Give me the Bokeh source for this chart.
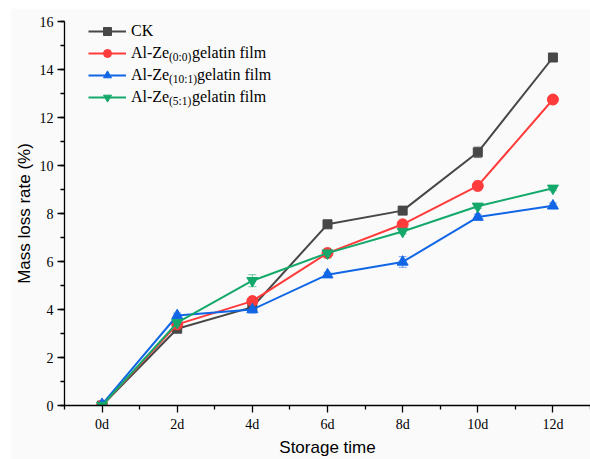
from bokeh.plotting import figure
from bokeh.models import (Range1d, FixedTicker, SingleIntervalTicker, Legend, LegendItem,
                          Whisker, ColumnDataSource)
from bokeh.embed import file_html
from bokeh.resources import INLINE

days = [0, 2, 4, 6, 8, 10, 12]
tick_labels = ["0d", "2d", "4d", "6d", "8d", "10d", "12d"]

ck = [0.0, 3.2, 4.1, 7.55, 8.12, 10.55, 14.5]
ck_err = [0.05, 0.08, 0.1, 0.15, 0.1, 0.22, 0.1]
ze00 = [0.0, 3.38, 4.35, 6.35, 7.55, 9.15, 12.75]
ze00_err = [0.05, 0.1, 0.15, 0.15, 0.12, 0.2, 0.15]
ze101 = [0.05, 3.75, 4.0, 5.45, 5.98, 7.85, 8.32]
ze101_err = [0.05, 0.1, 0.15, 0.1, 0.22, 0.12, 0.12]
ze51 = [0.0, 3.45, 5.2, 6.35, 7.25, 8.3, 9.05]
ze51_err = [0.05, 0.1, 0.25, 0.2, 0.1, 0.1, 0.1]

names_main = ["CK", "Al-Ze", "Al-Ze", "Al-Ze"]
names_sub = ["(0:0)", "(10:1)", "(5:1)"]
names_tail = ["gelatin film", "gelatin film", "gelatin film"]

colors = ["#474747", "#ff3b3b", "#1166e6", "#14a96b"]
markers = ["square", "circle", "triangle", "inverted_triangle"]
series = [ck, ze00, ze101, ze51]
errors = [ck_err, ze00_err, ze101_err, ze51_err]

p = figure(width=580, height=451, output_backend="svg", toolbar_location=None,
           x_range=Range1d(-1, 13), y_range=Range1d(0, 16),
           min_border_left=54, min_border_right=0, min_border_top=13, min_border_bottom=52,
           background_fill_color="#fafafa", border_fill_color="#fafafa",
           margin=(8, 0, 0, 10))
p.outline_line_color = None
p.xgrid.visible = False
p.ygrid.visible = False

renderers = []
for ys, err, c, m in zip(series, errors, colors, markers):
    src = ColumnDataSource(dict(x=days, y=ys,
                                lo=[a - b for a, b in zip(ys, err)],
                                hi=[a + b for a, b in zip(ys, err)]))
    w = Whisker(source=src, base="x", lower="lo", upper="hi",
                line_color=c, line_alpha=0.6, line_width=1)
    w.upper_head.line_color = c
    w.lower_head.line_color = c
    w.upper_head.line_alpha = 0.6
    w.lower_head.line_alpha = 0.6
    w.upper_head.size = 8
    w.lower_head.size = 8
    p.add_layout(w)
    l = p.line("x", "y", source=src, line_color=c, line_width=2)
    s = p.scatter("x", "y", source=src, marker=m, size=11 if m != "square" else 9,
                  fill_color=c, line_color=c)
    renderers.append([l, s])

common = dict(margin=0, padding=0, spacing=2, glyph_height=20, label_height=20,
              border_line_color=None, background_fill_alpha=0, label_text_color="#000000",
              label_text_font="Liberation Serif")

items = [LegendItem(label=n, renderers=r) for n, r in zip(names_main, renderers)]
p.add_layout(Legend(items=items, location=(24, 298), glyph_width=38, label_standoff=5,
                    label_text_font_size="16px", **common))

# invisible sample glyph for the subscript / tail parts of the legend labels
blank = p.scatter(x=[], y=[], size=1, fill_alpha=0, line_alpha=0)

sub_items = [LegendItem(label=s, renderers=[blank]) for s in names_sub]
p.add_layout(Legend(items=sub_items, location=(95, 294), glyph_width=10, label_standoff=0,
                    label_text_font_size="11.5px", **common))

sub_w = [23, 28, 23]
for r, (sw, tail) in enumerate(zip(sub_w, names_tail), start=1):
    p.add_layout(Legend(items=[LegendItem(label=tail, renderers=[blank])],
                        location=(95 + sw, 364 - 22 * r), glyph_width=10, label_standoff=0,
                        label_text_font_size="16px", **common))

p.xaxis.ticker = FixedTicker(ticks=days, minor_ticks=[-1, 1, 3, 5, 7, 9, 11, 13])
p.xaxis.major_label_overrides = {d: t for d, t in zip(days, tick_labels)}
p.yaxis.ticker = SingleIntervalTicker(interval=2, num_minor_ticks=2)

for ax in (p.xaxis[0], p.yaxis[0]):
    ax.axis_line_color = "#000000"
    ax.axis_line_width = 1.3
    ax.major_tick_line_color = "#000000"
    ax.minor_tick_line_color = "#000000"
    ax.major_tick_line_width = 1.3
    ax.minor_tick_line_width = 1.3
    ax.major_tick_out = 7
    ax.major_tick_in = 0
    ax.minor_tick_out = 4
    ax.minor_tick_in = 0
    ax.major_label_text_font = "Liberation Serif"
    ax.major_label_text_font_size = "14px"
    ax.major_label_text_color = "#000000"
    ax.axis_label_text_font = "Liberation Sans"
    ax.axis_label_text_font_style = "normal"
    ax.axis_label_text_font_size = "17px"
    ax.axis_label_text_color = "#000000"

p.xaxis.axis_label = "Storage time"
p.yaxis.axis_label = "Mass loss rate (%)"
p.xaxis.major_label_standoff = 4
p.xaxis.axis_label_standoff = 3
p.yaxis.major_label_standoff = 4
p.yaxis.axis_label_standoff = 3

open("out.html", "w").write(file_html(p, INLINE))
